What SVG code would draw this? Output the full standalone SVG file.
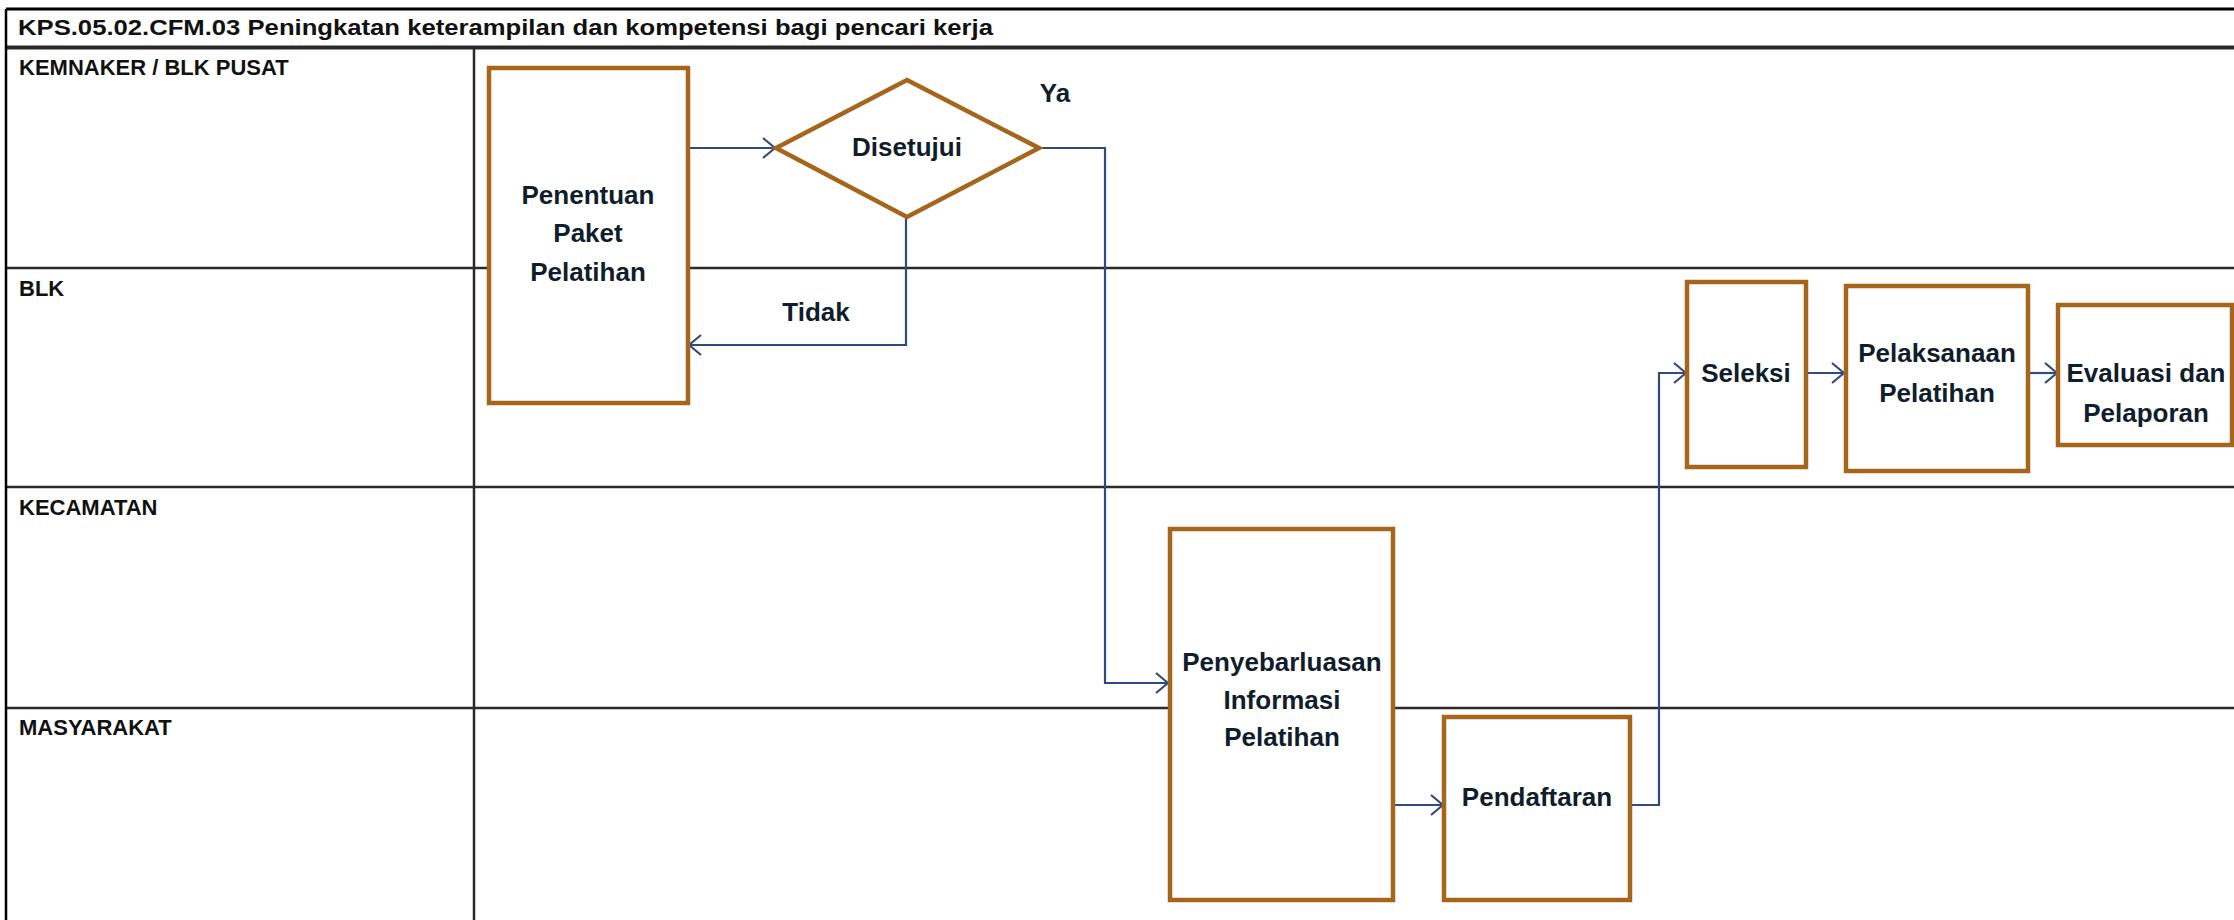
<svg xmlns="http://www.w3.org/2000/svg" width="2234" height="920" viewBox="0 0 2234 920">
<defs>
<style>
.lane{stroke:#2a2a2a;stroke-width:2.5;fill:none}
.node{fill:#fff;stroke:#a5651a;stroke-width:4.5}
.conn{fill:none;stroke:#2f4b7c;stroke-width:2.2}
.t{font-family:"Liberation Sans",Arial,sans-serif;font-weight:bold;font-size:26px;fill:#0f1d2c;text-anchor:middle}
.lbl{font-family:"Liberation Sans",Arial,sans-serif;font-weight:bold;font-size:22px;fill:#111}
</style>
<marker id="arr" viewBox="0 0 14 22" refX="13" refY="11" markerWidth="14" markerHeight="22" orient="auto" markerUnits="userSpaceOnUse">
<path d="M1,1 L13,11 L1,21" fill="none" stroke="#2f4b7c" stroke-width="2.2"/>
</marker>
</defs>
<rect x="0" y="0" width="2234" height="920" fill="#fff"/>
<g id="frame">
<line class="lane" x1="6" y1="9" x2="2234" y2="9" style="stroke:#000;stroke-width:3"/>
<line class="lane" x1="6" y1="47.5" x2="2234" y2="47.5" style="stroke-width:4"/>
<line class="lane" x1="6" y1="268" x2="2234" y2="268"/>
<line class="lane" x1="6" y1="487" x2="2234" y2="487"/>
<line class="lane" x1="6" y1="708" x2="2234" y2="708"/>
<line class="lane" x1="6" y1="9" x2="6" y2="920" style="stroke:#000"/>
<line class="lane" x1="474" y1="47" x2="474" y2="920"/>
<text class="lbl" x="18" y="35" font-size="21" textLength="975" lengthAdjust="spacingAndGlyphs">KPS.05.02.CFM.03 Peningkatan keterampilan dan kompetensi bagi pencari kerja</text>
<text class="lbl" x="19" y="75">KEMNAKER / BLK PUSAT</text>
<text class="lbl" x="19" y="296">BLK</text>
<text class="lbl" x="19" y="515">KECAMATAN</text>
<text class="lbl" x="19" y="735">MASYARAKAT</text>
</g>
<g id="connectors">
<path class="conn" d="M688,148 L775,148" marker-end="url(#arr)"/>
<path class="conn" d="M906,217 L906,345 L689,345" marker-end="url(#arr)"/>
<path class="conn" d="M1039,148 L1105,148 L1105,683 L1168,683" marker-end="url(#arr)"/>
<path class="conn" d="M1393,805 L1443,805" marker-end="url(#arr)"/>
<path class="conn" d="M1630,805 L1659,805 L1659,373 L1686,373" marker-end="url(#arr)"/>
<path class="conn" d="M1806,373 L1844,373" marker-end="url(#arr)"/>
<path class="conn" d="M2028,373 L2057,373" marker-end="url(#arr)"/>
<text class="t" x="1055" y="102">Ya</text>
<text class="t" x="816" y="321">Tidak</text>
</g>
<g id="penentuan">
<rect class="node" x="489" y="68" width="199" height="335"/>
<text class="t" x="588" y="204">Penentuan</text>
<text class="t" x="588" y="242">Paket</text>
<text class="t" x="588" y="281">Pelatihan</text>
</g>
<g id="disetujui">
<polygon class="node" points="907,80 1039,148 907,217 776,148"/>
<text class="t" x="907" y="156">Disetujui</text>
</g>
<g id="penyebarluasan">
<rect class="node" x="1170" y="529" width="223" height="371"/>
<text class="t" x="1282" y="671">Penyebarluasan</text>
<text class="t" x="1282" y="709">Informasi</text>
<text class="t" x="1282" y="746">Pelatihan</text>
</g>
<g id="pendaftaran">
<rect class="node" x="1444" y="717" width="186" height="183"/>
<text class="t" x="1537" y="806">Pendaftaran</text>
</g>
<g id="seleksi">
<rect class="node" x="1687" y="282" width="119" height="185"/>
<text class="t" x="1746" y="382">Seleksi</text>
</g>
<g id="pelaksanaan">
<rect class="node" x="1846" y="286" width="182" height="185"/>
<text class="t" x="1937" y="362">Pelaksanaan</text>
<text class="t" x="1937" y="402">Pelatihan</text>
</g>
<g id="evaluasi">
<rect class="node" x="2058" y="305" width="174" height="140"/>
<text class="t" x="2146" y="382">Evaluasi dan</text>
<text class="t" x="2146" y="422">Pelaporan</text>
</g>
</svg>
